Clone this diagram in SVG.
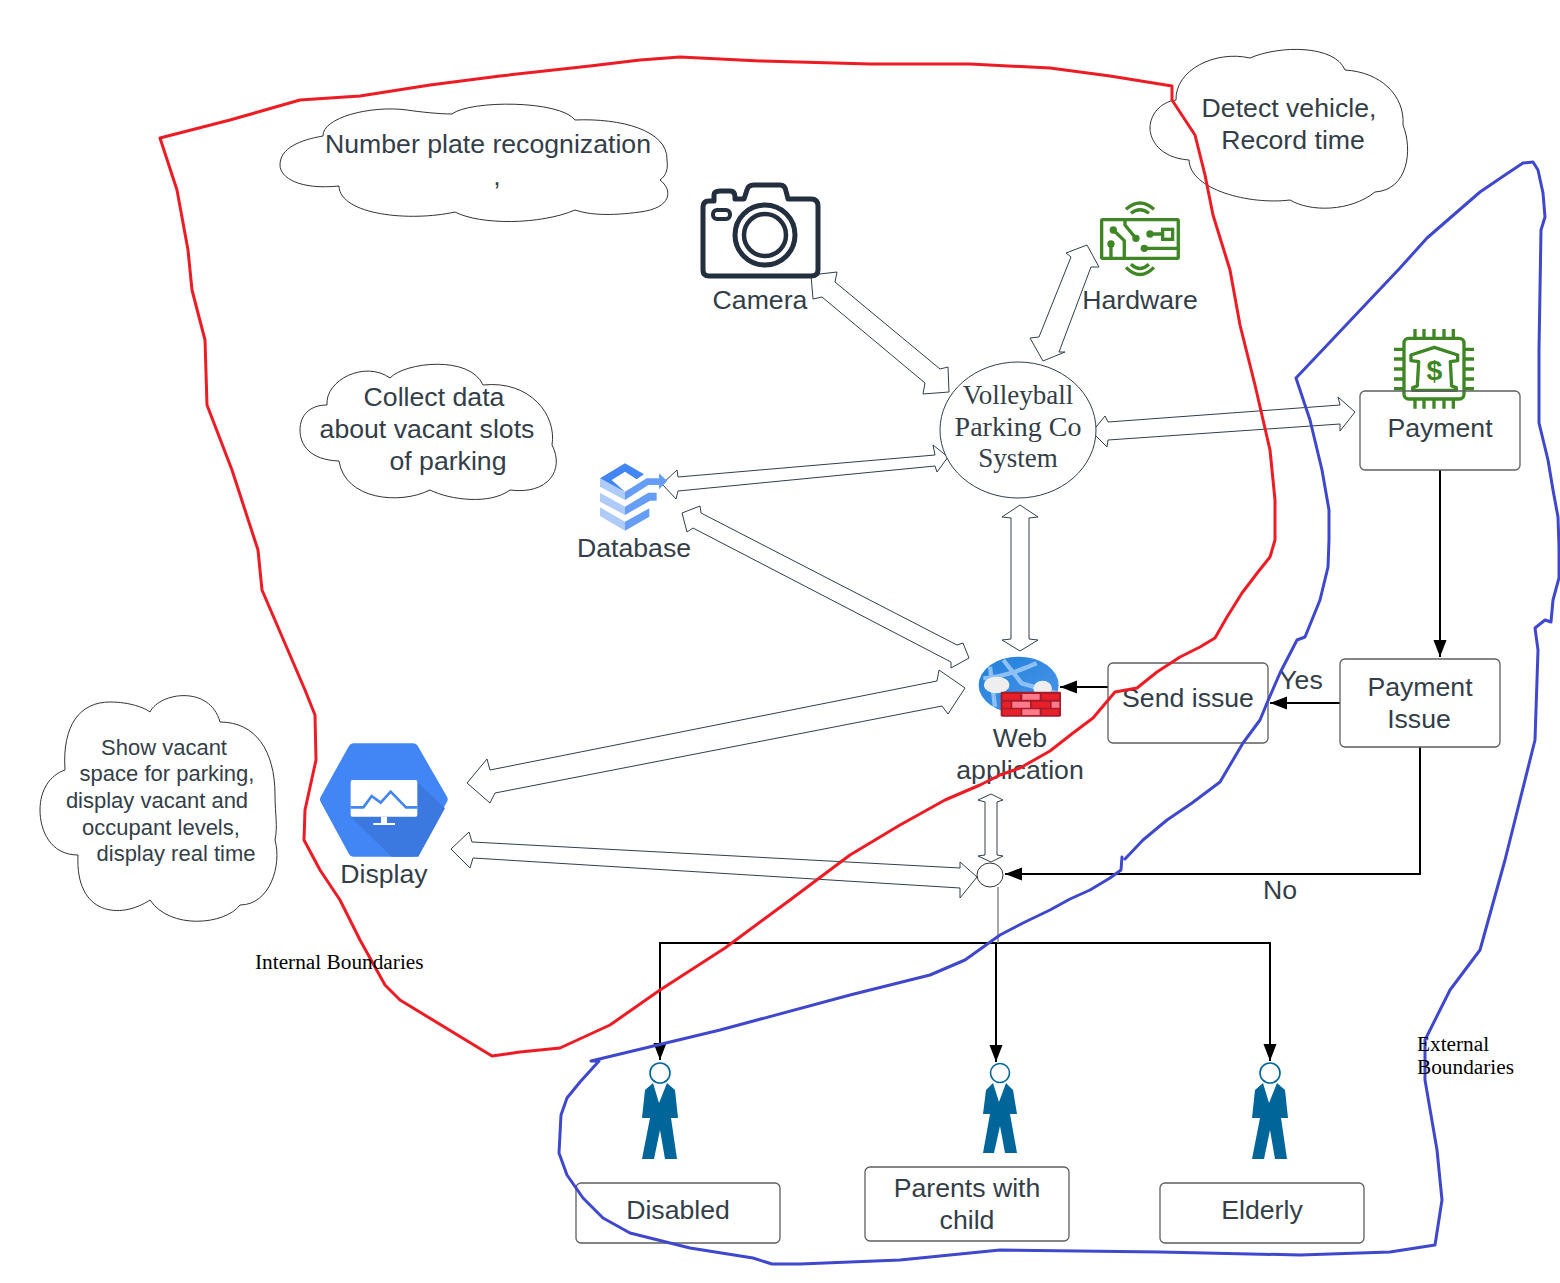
<svg xmlns="http://www.w3.org/2000/svg" width="1560" height="1283" viewBox="0 0 1560 1283">
<style>
text{font-family:"Liberation Sans",Arial,sans-serif;font-size:26.67px;fill:#333e48;text-anchor:middle}
.s{font-size:22px}
.t{font-family:"Liberation Serif","Times New Roman",serif;font-size:28px}
.b{fill:none;stroke:#5e5e5e;stroke-width:1.3}
.d{fill:#fff;stroke:#333e48;stroke-width:1;stroke-linejoin:round}
.c{fill:#fff;stroke:#333;stroke-width:1}
.l{fill:none;stroke:#000;stroke-width:2}
.bd{fill:none;stroke-width:3;stroke-linejoin:round;stroke-linecap:round}
.serif{font-family:"Liberation Serif","Times New Roman",serif;fill:#000;font-size:21.3px;text-anchor:start}
.p{fill:#006699}
.h{fill:#fff;stroke:#006699;stroke-width:1.6}
</style>
<defs>
<marker id="ah" markerUnits="userSpaceOnUse" markerWidth="18" markerHeight="14" refX="17" refY="6.5" orient="auto"><path d="M0,0L17,6.5L0,13Z" fill="#000"/></marker>
<linearGradient id="wg" x1="0" y1="0" x2="1" y2="1"><stop offset="0" stop-color="#1f7fd8"/><stop offset="1" stop-color="#4f98ec"/></linearGradient>
</defs>

<g id="cloud-plate"><path class="c" d="M339,186C300,190 280,178 280,165C280,148 300,140 323,136C322,118 370,105 407,110C420,112 440,114 452,114C470,100 560,100 575,120C620,118 668,130 667,160C668,168 667,175 660,180C673,190 672,208 640,212C610,216 590,215 575,210C540,225 480,225 455,212C410,222 340,215 339,186Z"/>
<text x="488" y="153">Number plate recognization</text><text x="497" y="185">,</text></g>
<g id="cloud-detect"><path class="c" d="M1176,100C1175,70 1215,50 1250,58C1280,45 1335,45 1345,70C1380,72 1405,95 1403,125C1413,150 1408,190 1375,192C1350,212 1310,212 1290,200C1250,205 1190,190 1189,160C1160,158 1150,140 1150,128C1150,115 1160,102 1176,100Z"/>
<text x="1289" y="117">Detect vehicle,</text><text x="1293" y="149">Record time</text></g>
<g id="cloud-collect"><path class="c" d="M327,405C325,380 365,360 390,378C405,362 470,355 483,385C530,380 557,415 552,445C565,470 548,495 510,490C490,505 450,500 430,490C400,505 345,500 339,461C310,460 300,445 300,430C300,415 310,405 327,405Z"/>
<text x="434" y="406">Collect data</text><text x="427" y="438">about vacant slots</text><text x="448" y="470">of parking</text></g>
<g id="cloud-show"><path class="c" d="M65,770C62,725 80,702 110,702C130,702 145,708 150,712C160,692 210,685 220,722C255,722 275,750 275,795C275,815 278,825 275,840C282,865 270,905 240,905C225,925 170,930 150,900C120,920 75,915 78,855C50,855 40,830 40,810C40,790 50,775 65,770Z"/>
<text class="s" x="164" y="755">Show vacant</text><text class="s" x="167" y="781">space for parking,</text><text class="s" x="157" y="808">display vacant and</text><text class="s" x="161" y="835">occupant levels,</text><text class="s" x="176" y="861">display real time</text></g>

<g id="connectors">
<path class="l" d="M1440,470V657" marker-end="url(#ah)"/>
<path class="l" d="M1340,703H1270" marker-end="url(#ah)"/>
<path class="l" d="M1108,687H1060" marker-end="url(#ah)"/>
<path class="l" d="M1420,747V874H1005" marker-end="url(#ah)"/>
<path class="l" d="M996,943H660V1060" marker-end="url(#ah)"/>
<path class="l" d="M996,943H1270V1061" marker-end="url(#ah)"/>
<path class="l" d="M996,943V1062" marker-end="url(#ah)"/>
<path d="M998,887V943" fill="none" stroke="#888" stroke-width="1.5"/>
<path class="d" d="M811,275L837,272L835,282L940,369L948,367L949,392L923,394L925,383L822,297L813,299Z"/>
<path class="d" d="M1087,245L1099,267L1091,267L1059,352L1065,352L1043,361L1030,338L1039,337L1071,257L1066,253Z"/>
<path class="d" d="M1092,432L1105,416L1108,422L1340,405L1338,397L1355,412L1340,431L1340,424L1108,440L1107,447Z"/>
<path class="d" d="M662,484L677,470L678,477L935,455L933,445L948,457L937,472L935,466L678,491L676,499Z"/>
<path class="d" d="M682,513L700,506L701,513L957,645L963,643L969,658L951,668L951,662L693,528L687,532Z"/>
<path class="d" d="M1020,505L1038,517L1029,518V639L1038,640L1020,651L1002,640L1011,639V518L1002,517Z"/>
<path class="d" d="M991,794L1003,800L997,802V855L1003,856L991,862L978,856L985,855V802L978,800Z"/>
<path class="d" d="M467,783L487,759L490,770L937,681L939,670L965,688L948,714L942,706L495,793L490,803Z"/>
<path class="d" d="M451,849L469,832L472,842L960,868L960,862L977,877L960,898L960,888L473,858L470,868Z"/>
</g>

<g id="system"><ellipse cx="1018" cy="430" rx="78" ry="68" fill="#fff" stroke="#333e48" stroke-width="1"/>
<text class="t" style="font-size:27px" x="1018" y="404">Volleyball</text><text class="t" x="1018" y="436">Parking Co</text><text class="t" style="font-size:27px" x="1018" y="467">System</text></g>
<g id="junction"><ellipse class="c" cx="990" cy="875" rx="13" ry="12"/></g>

<g id="camera"><path d="M703,207Q703,201 709,201H714V195Q714,191 720,191H730Q735,191 735,197V199H744L747,190Q748,185 754,185H780Q785,185 786,191L788,199H811Q818,199 818,206V270Q818,276 811,276H709Q703,276 703,270Z" fill="none" stroke="#232f3e" stroke-width="5" stroke-linejoin="round"/>
<rect x="713" y="210" width="17" height="9" rx="4" fill="none" stroke="#232f3e" stroke-width="4"/>
<circle cx="765" cy="235" r="30" fill="none" stroke="#232f3e" stroke-width="5"/><circle cx="765" cy="235" r="21" fill="none" stroke="#232f3e" stroke-width="4.5"/>
<text x="760" y="309">Camera</text></g>

<g id="hardware"><g transform="translate(680,170) scale(.3333)" fill="none" stroke="#3f8624" stroke-width="10">
<rect x="1265" y="149" width="230" height="116" rx="3"/>
<path d="M1338,118Q1380,80 1422,118M1353,130Q1380,108 1407,130M1338,292Q1380,335 1422,292M1353,283Q1380,308 1407,283"/>
<path d="M1300,180L1333,212V262M1293,220V262M1335,150V165L1368,205M1410,192H1450M1393,235H1495"/>
<rect x="1448" y="178" width="30" height="30"/>
<g fill="#3f8624" stroke="none"><circle cx="1300" cy="180" r="11"/><circle cx="1293" cy="222" r="11"/><circle cx="1368" cy="205" r="11"/><circle cx="1410" cy="192" r="11"/><circle cx="1393" cy="235" r="11"/></g></g>
<text x="1140" y="309">Hardware</text></g>

<g id="database"><g transform="translate(570,450) scale(.3333)">
<path fill="#4285f4" d="M90,85L165,40L222,73L200,88L165,65L125,90L165,125L125,107Z"/>
<path fill="#aecbfa" d="M90,85L165,125V150L90,110ZM90,128L165,170V195L90,155ZM90,172L165,215V242L90,198Z"/>
<path fill="#669df6" d="M165,125L230,85H267V70L292,93L267,118V105H235L165,150ZM165,170L235,128H260V152H240L165,195ZM165,215L238,175V200L165,242Z"/>
</g><text x="634" y="557">Database</text></g>

<g id="web"><g transform="translate(940,640) scale(.3333)">
<ellipse cx="236" cy="135" rx="120" ry="85" fill="url(#wg)"/>
<path d="M190,60L245,130L352,160M130,115Q200,110 290,70M150,80L165,200" fill="none" stroke="#8fc0f5" stroke-width="13"/>
<ellipse cx="170" cy="135" rx="38" ry="25" fill="#eee"/><ellipse cx="308" cy="145" rx="28" ry="23" fill="#eee"/>
<rect x="182" y="155" width="181" height="75" rx="4" fill="#a51c2c"/>
<path fill="#e8202a" d="M188,162h52v17h-52zM305,162h52v17h-52zM188,185h24v18h-24zM275,185h55v18h-55zM188,208h54v17h-54zM305,208h52v17h-52z"/>
<path fill="#ff7b8b" d="M247,162h52v17h-52zM217,185h53v18h-53zM335,185h23v18h-23zM247,208h52v17h-52z"/>
</g><text x="1020" y="747">Web</text><text x="1020" y="779">application</text></g>

<g id="display"><g transform="translate(300,730) scale(.3333)">
<path d="M75,208L160,55H340L428,208L340,365H160Z" fill="#4285f4" stroke="#4285f4" stroke-width="30" stroke-linejoin="round"/>
<path d="M355,160L435,235L355,380H275L152,260Z" fill="#3b78e0"/>
<rect x="152" y="150" width="200" height="110" rx="5" fill="#fff"/><rect x="243" y="260" width="18" height="20" fill="#fff"/><rect x="220" y="279" width="65" height="6" fill="#fff"/>
<path d="M152,232H190L215,198L242,218L272,185L318,232H352" fill="none" stroke="#4285f4" stroke-width="8"/>
</g><text x="384" y="883">Display</text></g>

<g id="payment"><g transform="translate(1340,320) scale(.3333)" fill="none" stroke="#3f8624" stroke-width="10">
<rect x="192" y="55" width="180" height="182" rx="14"/>
<path d="M225,27V52M252,27V52M282,27V52M312,27V52M340,27V52M225,240V266M252,240V266M282,240V266M312,240V266M340,240V266M162,88H190M162,117H190M162,147H190M162,177H190M162,206H190M375,88H402M375,117H402M375,147H402M375,177H402M375,206H402"/>
<path d="M213,122V105L283,82L353,105V122L331,125L335,198L349,203V211H218V203L232,198L236,125Z" stroke-linejoin="round"/>
<text x="283" y="180" style="font-size:85px;font-weight:bold;fill:#3f8624;stroke:none">$</text></g>
<rect class="b" x="1360" y="391" width="160" height="79" rx="5"/><text x="1440" y="437">Payment</text></g>

<g id="payment-issue"><rect class="b" x="1340" y="659" width="160" height="88" rx="5"/><text x="1420" y="696">Payment</text><text x="1419" y="728">Issue</text></g>
<g id="send-issue"><rect class="b" x="1108" y="663" width="160" height="80" rx="5"/><text x="1188" y="707">Send issue</text></g>
<text x="1301" y="689">Yes</text><text x="1280" y="899">No</text>

<g id="person-disabled"><circle class="h" cx="660" cy="1073" r="10"/><path class="p" d="M653,1083L659,1103L667,1083L675,1090L678,1118H671L677,1159H665L660,1130L654,1159H642L650,1118H642L645,1090Z"/></g>
<g id="person-parents"><circle class="h" cx="1000" cy="1073" r="9.5"/><path class="p" d="M993,1083L999,1102L1006,1083L1013,1090L1017,1114H1010L1017,1153H1005L1000,1126L994,1153H983L990,1114H983L986,1090Z"/></g>
<g id="person-elderly"><circle class="h" cx="1270" cy="1073" r="10"/><path class="p" d="M1263,1083L1269,1103L1277,1083L1285,1090L1288,1118H1281L1287,1159H1275L1270,1130L1264,1159H1252L1260,1118H1252L1255,1090Z"/></g>
<g id="disabled"><rect class="b" x="576" y="1183" width="204" height="60" rx="5"/><text x="678" y="1219">Disabled</text></g>
<g id="parents"><rect class="b" x="865" y="1167" width="204" height="74" rx="5"/><text x="967" y="1197">Parents with</text><text x="967" y="1229">child</text></g>
<g id="elderly"><rect class="b" x="1160" y="1183" width="204" height="60" rx="5"/><text x="1262" y="1219">Elderly</text></g>

<g id="internal-boundary"><path class="bd" stroke="#ed1c24" d="M160,138L230,120L300,100L360,96L430,85L500,76L590,66L640,60L680,57L760,61L870,64L970,64L1050,68L1110,76L1172,86L1172,100L1195,135L1205,175L1213,215L1230,270L1240,325L1255,385L1270,450L1275,500L1275,540L1270,557L1258,572L1242,593L1227,617L1215,638L1200,647L1180,657L1157,672L1137,688L1115,692L1093,718L1073,733L1050,751L1020,768L1000,775L980,785L945,800L900,825L850,855L790,900L725,948L660,990L610,1025L560,1048L520,1052L492,1056L400,1000L385,985L360,940L340,900L320,870L304,840L305,810L316,760L315,715L305,690L262,590L258,550L232,470L207,405L205,340L192,290L188,250L177,190Z"/>
<text class="serif" x="255" y="969">Internal Boundaries</text></g>
<g id="external-boundary"><path class="bd" stroke="#3f48cc" d="M1296,378L1400,268L1427,238L1480,192L1505,175L1523,163L1533,162L1538,170L1543,193L1545,217L1541,230L1539,350L1539,423L1548,460L1553,490L1558,517L1559,547L1559,578L1553,600L1551,622L1545,620L1535,628L1538,650L1535,740L1520,800L1505,860L1480,950L1450,990L1425,1040L1425,1080L1437,1150L1442,1200L1435,1245L1390,1252L1300,1255L1160,1252L1000,1250L900,1260L800,1264L772,1264L753,1258L690,1248L630,1233L603,1218L583,1198L567,1175L559,1153L561,1115L567,1098L580,1082L599,1061L591,1061L720,1030L850,995L930,975L965,960L1000,935L1025,922L1050,910L1070,899L1090,890L1110,878L1121,870L1122,857M1125,859L1143,840L1167,820L1192,803L1220,782L1243,743L1260,720L1267,703L1280,673L1297,640L1305,637L1320,600L1328,567L1329,540L1329,510L1322,470L1310,420L1296,378"/>
<text class="serif" x="1417" y="1051">External</text><text class="serif" x="1417" y="1074">Boundaries</text></g>
</svg>
